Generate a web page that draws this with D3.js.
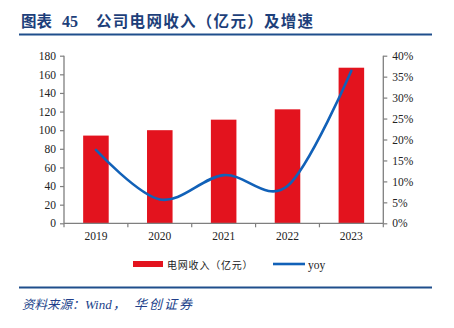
<!DOCTYPE html>
<html>
<head>
<meta charset="utf-8">
<script src="https://cdn.jsdelivr.net/npm/d3@7/dist/d3.min.js"></script>
<style>
  html, body { margin: 0; padding: 0; background: #fff; }
  svg { display: block; }
</style>
</head>
<body>
<svg id="chart" width="454" height="328"></svg>
<script>
// Grid revenue (100 million yuan) and year-over-year growth
const years = ["2019", "2020", "2021", "2022", "2023"];
const revenue = [94.2, 100.0, 111.3, 122.4, 167.1];
const yoy = [17.5, 5.7, 11.5, 8.9, 36.4];
const leftTicks = [0, 20, 40, 60, 80, 100, 120, 140, 160, 180];
const rightTicks = [0, 5, 10, 15, 20, 25, 30, 35, 40];

const svg = d3.select("#chart");
const navy = "#1d3f7a";
const sourceBlue = "#213f8a";
const axisColor = "#7f7f7f";
const barColor = "#e3131e";
const lineColor = "#1161b8";
const serif = "'Liberation Serif', 'Times New Roman', serif";
const cjk = "'Noto Sans CJK SC', sans-serif";

// Header
svg.append("text").attr("x", 21).attr("y", 27)
  .attr("font-family", cjk).attr("font-weight", "bold").attr("font-size", 15.5)
  .attr("fill", navy).text("图表");
svg.append("text").attr("x", 62).attr("y", 27)
  .attr("font-family", serif).attr("font-weight", "bold").attr("font-size", 16)
  .attr("fill", navy).text("45");
svg.append("text").attr("x", 96).attr("y", 27)
  .attr("font-family", cjk).attr("font-weight", "bold").attr("font-size", 15.5)
  .attr("fill", navy).attr("letter-spacing", 1.3).text("公司电网收入（亿元）及增速");
svg.append("rect").attr("x", 19).attr("y", 33.5).attr("width", 413).attr("height", 2).attr("fill", "#1f4e8c");

// Footer
svg.append("rect").attr("x", 19).attr("y", 286.5).attr("width", 413).attr("height", 2).attr("fill", "#1f4e8c");
svg.append("text").attr("x", 22).attr("y", 309)
  .attr("font-family", cjk).attr("font-style", "italic").attr("font-size", 12.5)
  .attr("fill", sourceBlue).text("资料来源：");
svg.append("text").attr("x", 85).attr("y", 309)
  .attr("font-family", serif).attr("font-style", "italic").attr("font-size", 13)
  .attr("fill", sourceBlue).text("Wind");
svg.append("text").attr("x", 113).attr("y", 309)
  .attr("font-family", cjk).attr("font-style", "italic").attr("font-size", 12.5)
  .attr("fill", sourceBlue).text("，");
svg.append("text").attr("x", 134).attr("y", 309)
  .attr("font-family", cjk).attr("font-style", "italic").attr("font-size", 13)
  .attr("fill", sourceBlue).attr("letter-spacing", 2).text("华创证券");

// Plot area
const x0 = 64, x1 = 383.3, yTop = 55.7, yBot = 223.3;

const x = d3.scaleBand().domain(years).range([x0, x1]).paddingInner(0.6).paddingOuter(0.3);
const xCenter = d => x(d) + x.bandwidth() / 2;
const yL = d3.scaleLinear().domain([0, 180]).range([yBot, yTop]);
const yR = d3.scaleLinear().domain([0, 40]).range([yBot, yTop]);

// Bars
svg.append("g").selectAll("rect").data(years).join("rect")
  .attr("x", d => x(d))
  .attr("width", x.bandwidth())
  .attr("y", (d, i) => yL(revenue[i]))
  .attr("height", (d, i) => yBot - yL(revenue[i]))
  .attr("fill", barColor);

// Left axis
const gl = svg.append("g").attr("transform", `translate(${x0},0)`)
  .call(d3.axisLeft(yL).tickValues(leftTicks).tickSize(4).tickPadding(4));
// Right axis
const gr = svg.append("g").attr("transform", `translate(${x1},0)`)
  .call(d3.axisRight(yR).tickValues(rightTicks).tickSize(4).tickPadding(5)
    .tickFormat(d => d + "%"));
// Bottom axis, with ticks at category boundaries
const bounds = d3.range(years.length + 1).map(i => x0 + i * (x1 - x0) / years.length);
const gb = svg.append("g").attr("transform", `translate(0,${yBot})`);
gb.append("line").attr("x1", x0).attr("x2", x1).attr("stroke", axisColor).attr("stroke-width", 1.3);
gb.selectAll("line.t").data(bounds).join("line").attr("class", "t")
  .attr("x1", d => d).attr("x2", d => d).attr("y1", 0).attr("y2", 4)
  .attr("stroke", axisColor).attr("stroke-width", 1.2);
gb.selectAll("text").data(years).join("text")
  .attr("x", d => xCenter(d)).attr("y", 17)
  .attr("text-anchor", "middle")
  .attr("font-family", serif).attr("font-size", 11.5).attr("fill", "#222")
  .text(d => d);

[gl, gr].forEach(g => {
  g.select(".domain").attr("stroke", axisColor).attr("stroke-width", 1.3)
    .attr("d", `M0,${yTop}V${yBot}`);
  g.selectAll(".tick line").attr("stroke", axisColor).attr("stroke-width", 1.2);
  g.selectAll(".tick text").attr("font-family", serif).attr("font-size", 11.5).attr("fill", "#222");
});

// Growth line
const line = d3.line()
  .x((d, i) => xCenter(years[i]))
  .y(d => yR(d))
  .curve(d3.curveCardinal.tension(0));
svg.append("path").datum(yoy)
  .attr("d", line)
  .attr("fill", "none")
  .attr("stroke", lineColor)
  .attr("stroke-width", 2.6)
  .attr("stroke-linecap", "round");

// Legend
const lg = svg.append("g");
lg.append("rect").attr("x", 133).attr("y", 261).attr("width", 30).attr("height", 6).attr("fill", barColor);
lg.append("text").attr("x", 167).attr("y", 268.5)
  .attr("font-family", cjk).attr("font-size", 10).attr("letter-spacing", 0.8).attr("fill", "#222")
  .text("电网收入（亿元）");
lg.append("line").attr("x1", 273).attr("x2", 305).attr("y1", 264).attr("y2", 264)
  .attr("stroke", lineColor).attr("stroke-width", 2.6);
lg.append("text").attr("x", 308).attr("y", 268.5)
  .attr("font-family", serif).attr("font-size", 11.5).attr("fill", "#222")
  .text("yoy");
</script>
</body>
</html>
